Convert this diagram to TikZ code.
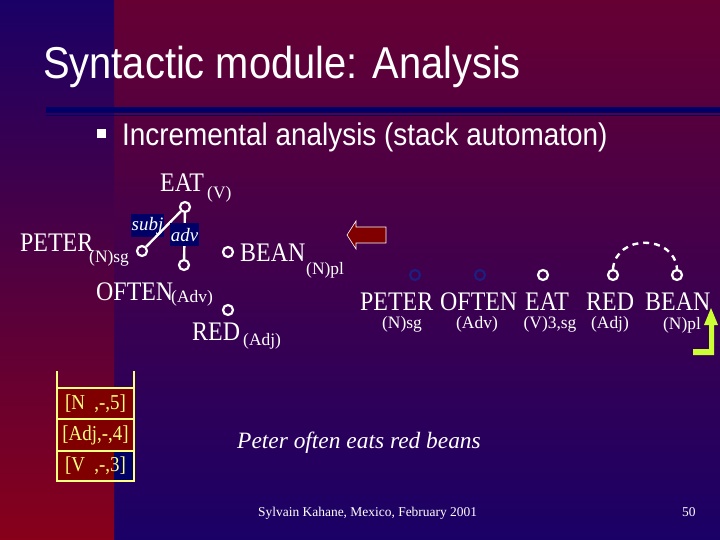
\documentclass[tikz,border=0pt]{standalone}
\usepackage{fontspec}
\setmainfont{Liberation Serif}
\newfontfamily\arialf{Liberation Sans}
\newcommand{\tallx}[1]{\scalebox{1}[1.12]{#1}}
\definecolor{navyb}{HTML}{1A0066}
\definecolor{redb}{HTML}{88001A}
\definecolor{maroonb}{HTML}{660033}
\definecolor{boxnavy}{HTML}{000066}
\definecolor{arrowred}{HTML}{800000}
\definecolor{lime}{HTML}{CCFF33}
\definecolor{stackyel}{HTML}{FFFF80}
\definecolor{dimring}{HTML}{1E1E80}
\tikzset{
  big/.style={font=\fontsize{24}{26}\selectfont, text=white, inner sep=0pt, anchor=base west},
  small/.style={font=\fontsize{17.5}{19}\selectfont, text=white, inner sep=0pt, anchor=base west},
  smallc/.style={font=\fontsize{17.5}{19}\selectfont, text=white, inner sep=0pt, anchor=base},
  ring/.style={circle, draw=white, line width=2.2pt, minimum size=10bp, inner sep=0pt},
  dimr/.style={ring, draw=dimring},
  edge/.style={draw=white, line width=2.4pt},
  lbl/.style={fill=boxnavy, text=white, font=\fontsize{19}{21}\selectfont\itshape, inner sep=1pt, minimum height=23bp},
  stackline/.style={draw=stackyel, line width=1.6pt},
  stacktxt/.style={text=stackyel, font=\fontsize{19}{21}\selectfont, inner sep=0pt}
}
\begin{document}
\begin{tikzpicture}[x=1bp,y=-1bp]
\useasboundingbox (0,0) rectangle (720,540);
% background
\shade[top color=maroonb, bottom color=navyb] (114,0) rectangle (720,540);
\shade[top color=navyb, bottom color=redb] (0,0) rectangle (114,540);
% title
\node[font=\arialf\fontsize{40}{44}\selectfont, text=white, inner sep=0pt, anchor=base west] (title) at (43,79) {\tallx{Syntactic module: Analysis}};
\fill[boxnavy] (46,107) rectangle (720,113);
\fill[boxnavy] (46,115) rectangle (720,116.5);
% bullet
\fill[white] (97,129) rectangle (106,138);
\node[font=\arialf\fontsize{28}{32}\selectfont, text=white, inner sep=0pt, anchor=base west] (bul) at (122,146) {\tallx{Incremental analysis (stack automaton)}};

% tree (left)
\node[big] (eatt) at (160,192) {\tallx{EAT}};
\node[small] (eatv) at (207,199) {(V)};
\node[big] (petert) at (20,252) {\tallx{PETER}};
\node[small] (peters) at (89,263) {(N)sg};
\node[big] (beant) at (240,262) {\tallx{BEAN}};
\node[small] (beans) at (306,275) {(N)pl};
\node[big] (oftent) at (96,300) {\tallx{OFTEN}};
\node[small] (oftens) at (171,302) {(Adv)};
\node[big] (redt) at (192,340) {\tallx{RED}};
\node[small] (reds) at (243,345) {(Adj)};

\node[ring] (eat) at (185,207) {};
\node[ring] (peter) at (142,251) {};
\node[ring] (often) at (184,265) {};
\node[ring] (bean) at (228,252) {};
\node[ring] (red) at (228,310) {};

\node[lbl, minimum width=33bp] (subj) at (147.5,225.5) {subj};
\draw[edge] (eat) -- (peter);
\draw[edge] (eat) -- (often);
\node[lbl, minimum width=29bp] (adv) at (184.5,235) {adv};

% red arrow
\draw[white, line width=0.6pt, fill=arrowred] (347,235) -- (356,221) -- (356,227) -- (386,227) -- (386,243) -- (356,243) -- (356,249) -- cycle;

% right row
\node[dimr] (c1) at (415,275) {};
\node[dimr] (c2) at (480,275) {};
\node[ring] (c3) at (543,275) {};
\node[ring] (c4) at (613,275) {};
\node[ring] (c5) at (677,275) {};
\node[big] (w1) at (360,310) {\tallx{PETER}};
\node[big] (w2) at (440,310) {\tallx{OFTEN}};
\node[big] (w3) at (525,310) {\tallx{EAT}};
\node[big] (w4) at (586,310) {\tallx{RED}};
\node[big] (w5) at (645,310) {\tallx{BEAN}};
\node[smallc] (s1) at (402,328) {(N)sg};
\node[smallc] (s2) at (477,328) {(Adv)};
\node[smallc] (s3) at (550,328) {(V)3,sg};
\node[smallc] (s4) at (610,328) {(Adj)};
\node[smallc] (s5) at (682,329) {(N)pl};
\draw[white, line width=2.4pt, dash pattern=on 6pt off 5pt] (c4.north) .. controls (616,234) and (674,234) .. (c5.north);

% lime arrow
\fill[lime] (711,308) -- (718,325) -- (714,325) -- (714,355) -- (693,355) -- (693,349) -- (709,349) -- (709,325) -- (704,325) -- cycle;

% stack
\fill[arrowred] (57,388) rectangle (134,451);
\fill[arrowred] (57,451) rectangle (114,481);
\fill[boxnavy] (114,451) rectangle (134,481);
\draw[stackline] (57,371) -- (57,481) -- (134,481) -- (134,371);
\draw[stackline] (57,388) -- (134,388);
\draw[stackline] (57,419) -- (134,419);
\draw[stackline] (57,451) -- (134,451);
\node[stacktxt] (st1) at (95.5,404) {\tallx{[N\ \ ,-,5]}};
\node[stacktxt] (st2) at (95.5,435) {\tallx{[Adj,-,4]}};
\node[stacktxt] (st3) at (95.5,466) {\tallx{[V\ \ ,-,3]}};

% sentence
\node[font=\fontsize{23.5}{26}\selectfont\itshape, text=white, inner sep=0pt, anchor=base west] (sent) at (237,448) {Peter often eats red beans};

% footer
\node[font=\fontsize{13.5}{15}\selectfont, text=white, inner sep=0pt, anchor=base west] (foot) at (258,516) {Sylvain Kahane, Mexico, February 2001};
\node[font=\fontsize{13.5}{15}\selectfont, text=white, inner sep=0pt, anchor=base west] (pg) at (682,516) {50};
\end{tikzpicture}
\end{document}
